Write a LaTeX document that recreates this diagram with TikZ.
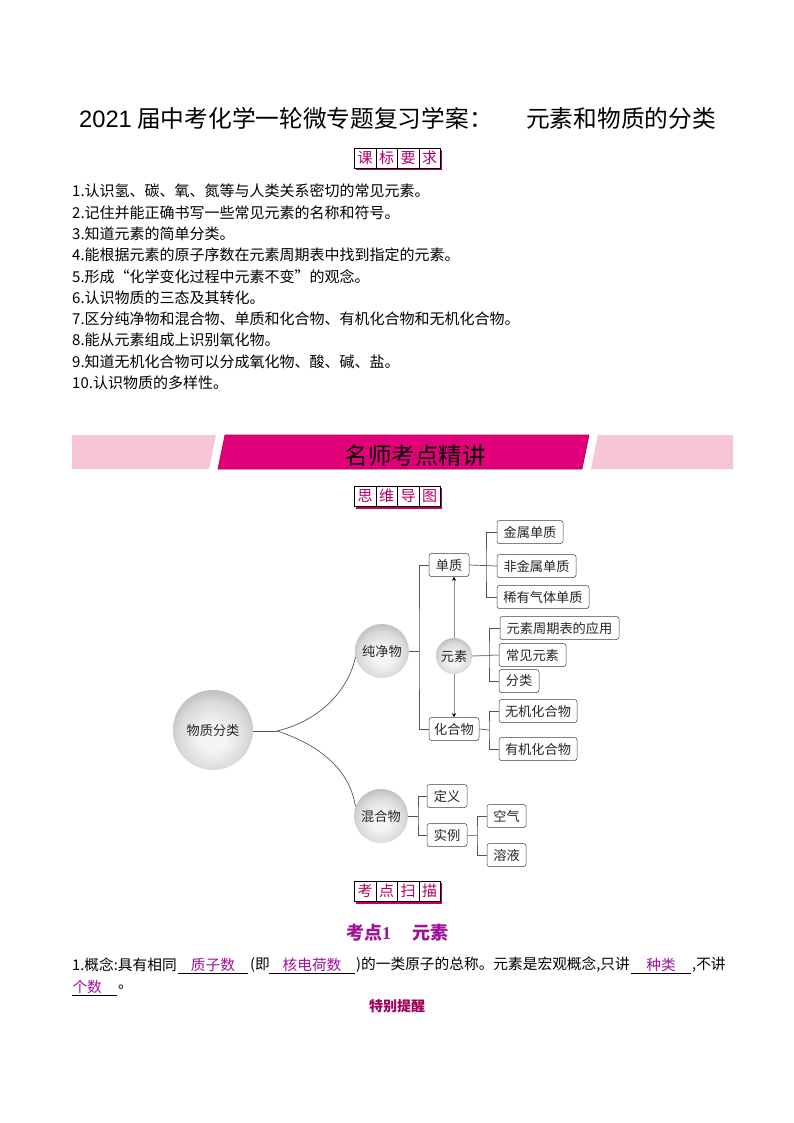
\documentclass[tikz,border=0pt]{standalone}
\usepackage{fontspec}
\setmainfont{Noto Sans CJK SC}
\newfontfamily\titlelatin{Liberation Sans}
\newfontfamily\numlatin{Liberation Serif}
\definecolor{rosered}{HTML}{E2007A}
\definecolor{palerose}{HTML}{F6C6D8}
\definecolor{answerpurple}{HTML}{A0109A}
\definecolor{linegray}{HTML}{555555}
\pgfdeclareradialshading{ballfill}{\pgfpoint{0bp}{-5bp}}{color(0bp)=(black!4); color(8bp)=(black!4); color(22bp)=(black!15); color(36bp)=(black!36); color(100bp)=(black!36)}
\tikzset{
        body/.style={anchor=west, inner sep=0pt, font=\fontsize{15}{15}\selectfont},
        cell/.style={draw=black, fill=white, line width=0.5pt, minimum width=21.5pt, minimum height=20pt, inner sep=0pt, text=rosered!80!black, font=\fontsize{15}{15}\selectfont},
        shadowbar/.style={fill=rosered!85!black, draw=none},
        leaf/.style={draw=black!75, rounded corners=2.5pt, fill=white, line width=0.5pt, inner sep=0pt, minimum height=23pt, font=\fontsize{13.2}{13.2}\selectfont, text=black!85},
        ball/.style={circle, inner sep=0pt, shade, shading=ballfill, font=\fontsize{13.2}{13.2}\selectfont, text=black!85},
        link/.style={draw=linegray, line width=0.7pt},
        softlink/.style={draw=black!45, line width=1pt},
        heavylink/.style={draw=black!45, line width=1pt, -{Stealth[black,length=4pt,width=4pt]}},
        answer/.style={inner sep=0pt, minimum height=16pt, text=answerpurple, font=\fontsize{14.7}{14.7}\selectfont},
        line14/.style={anchor=west, inner sep=0pt, font=\fontsize{14.7}{14.7}\selectfont}
}
\usetikzlibrary{arrows.meta}
\begin{document}
\begin{tikzpicture}[x=1pt,y=-1pt]
        \useasboundingbox (0,0) rectangle (794,1123);
        \fill[white] (0,0) rectangle (794,1123);

        \node[anchor=west, inner sep=0pt, font=\fontsize{23.7}{24}\selectfont] at (79,118) (title1) {{\titlelatin 2021} 届中考化学一轮微专题复习学案：};
        \node[anchor=west, inner sep=0pt, font=\fontsize{23.7}{24}\selectfont] at (526,118) (title2) {元素和物质的分类};

        \fill[shadowbar] (356,150) rectangle (442,170.5);
        \node[cell] at (365,158) (ka) {课};
        \node[cell] at (386.5,158) (kb) {标};
        \node[cell] at (408,158) (kc) {要};
        \node[cell] at (429.5,158) (kd) {求};

        \node[body] at (72,191) (r1) {1.认识氢、碳、氧、氮等与人类关系密切的常见元素。};
        \node[body] at (72,213) (r2) {2.记住并能正确书写一些常见元素的名称和符号。};
        \node[body] at (72,234) (r3) {3.知道元素的简单分类。};
        \node[body] at (72,255) (r4) {4.能根据元素的原子序数在元素周期表中找到指定的元素。};
        \node[body] at (72,277) (r5) {5.形成“化学变化过程中元素不变”的观念。};
        \node[body] at (72,298) (r6) {6.认识物质的三态及其转化。};
        \node[body] at (72,319) (r7) {7.区分纯净物和混合物、单质和化合物、有机化合物和无机化合物。};
        \node[body] at (72,340) (r8) {8.能从元素组成上识别氧化物。};
        \node[body] at (72,362) (r9) {9.知道无机化合物可以分成氧化物、酸、碱、盐。};
        \node[body] at (72,383) (r10) {10.认识物质的多样性。};

        \fill[palerose] (72,435) -- (216,435) -- (209,469) -- (72,469) -- cycle;
        \draw[fill=rosered, draw=rosered!70!black, line width=0.6pt] (225,435) -- (589,435) -- (582,469) -- (218,469) -- cycle;
        \fill[palerose] (598,435) -- (733,435) -- (733,469) -- (591,469) -- cycle;
        \node[inner sep=0pt, font=\fontsize{23.5}{24}\selectfont] at (415,456) (band) {名师考点精讲};

        \fill[shadowbar] (356,488) rectangle (442,508.5);
        \node[cell] at (365,496) (sa) {思};
        \node[cell] at (386.5,496) (sb) {维};
        \node[cell] at (408,496) (sc) {导};
        \node[cell] at (429.5,496) (sd) {图};

        \node[ball, minimum size=80pt] at (213,730) (wzfl) {物质分类};
        \node[ball, minimum size=54pt] at (382,651) (cjw) {纯净物};
        \node[ball, minimum size=54pt] at (381,816) (hhw) {混合物};
        \node[ball, minimum size=36pt] at (454,656) (ys) {元素};

        \node[leaf, minimum width=40pt] at (449,565) (dz) {单质};
        \node[leaf, minimum width=50pt] at (454,729) (hhe) {化合物};
        \node[leaf, minimum width=66pt] at (530,532) (js) {金属单质};
        \node[leaf, minimum width=79pt] at (536.5,566) (fjs) {非金属单质};
        \node[leaf, minimum width=92pt] at (543,597) (xy) {稀有气体单质};
        \node[leaf, minimum width=119pt] at (559.5,628) (zq) {元素周期表的应用};
        \node[leaf, minimum width=67pt] at (532.5,655) (cj) {常见元素};
        \node[leaf, minimum width=40pt] at (519,681) (fl) {分类};
        \node[leaf, minimum width=78pt] at (538,711) (wj) {无机化合物};
        \node[leaf, minimum width=78pt] at (538,749) (yj) {有机化合物};
        \node[leaf, minimum width=40pt] at (447,796) (dy) {定义};
        \node[leaf, minimum width=40pt] at (447,835) (sl) {实例};
        \node[leaf, minimum width=39pt] at (506.5,816) (kq) {空气};
        \node[leaf, minimum width=39pt] at (506.5,855) (ry) {溶液};

        \coordinate (fork) at (277,731);
        \coordinate (busa) at (419,651);
        \coordinate (busb) at (486,566);
        \coordinate (busc) at (489,655);
        \coordinate (busd) at (489,730);
        \coordinate (buse) at (418,816);
        \coordinate (busf) at (477,835);

        \draw[link] (wzfl.east |- fork) -- (fork);
        \draw[link] (fork) .. controls (315,722) and (347,695) .. (cjw.193);
        \draw[link] (fork) .. controls (320,745) and (350,770) .. (hhw.160);

        \draw[link] (cjw.east) -- (busa);
        \draw[link] (dz.west) -| (busa) |- (hhe.west);
        \draw[link] (dz.east) -- (fjs.west);
        \draw[link] (js.west) -| (busb) |- (xy.west);
        \draw[softlink] (ys.east) -- (cj.west);
        \draw[link] (zq.west) -| (busc) |- (fl.west);
        \draw[link] (hhe.east) -- (busd);
        \draw[link] (wj.west) -| (busd) |- (yj.west);
        \draw[link] (hhw.east) -- (buse);
        \draw[link] (dy.west) -| (buse) |- (sl.west);
        \draw[softlink] (sl.east) -- (busf);
        \draw[link] (kq.west) -| (busf) |- (ry.west);

        \draw[heavylink] (ys.north) -- (ys.north |- dz.south);
        \draw[heavylink] (ys.south) -- (ys.south |- hhe.north);

        \fill[shadowbar] (356,883) rectangle (442,903.5);
        \node[cell] at (365,891) (ta) {考};
        \node[cell] at (386.5,891) (tb) {点};
        \node[cell] at (408,891) (tc) {扫};
        \node[cell] at (429.5,891) (td) {描};

        \node[inner sep=0pt, text=answerpurple, font=\fontsize{18}{18}\bfseries\selectfont] at (397,933) (kd1) {考点{\numlatin 1}\hspace{21pt}元素};

        \node[line14] at (72,965) (p1) {1.概念:具有相同};
        \node[answer, minimum width=70pt] at (213,965) (an1) {质子数};
        \node[line14] at (250,965) (p2) {(即};
        \node[answer, minimum width=86pt] at (312,965) (an2) {核电荷数};
        \node[line14] at (356,965) (p3) {)的一类原子的总称。元素是宏观概念,只讲};
        \node[answer, minimum width=60pt] at (661,965) (an3) {种类};
        \node[line14] at (692,965) (p4) {,不讲};
        \node[answer, anchor=west, minimum width=45pt, align=left] at (72,987) (an4) {个数\hspace{15pt}};
        \node[line14] at (118,987) (p5) {。};

        \draw[line width=0.5pt] (an1.south west) -- (an1.south east);
        \draw[line width=0.5pt] (an2.south west) -- (an2.south east);
        \draw[line width=0.5pt] (an3.south west) -- (an3.south east);
        \draw[line width=0.5pt] (an4.south west) -- (an4.south east);

        \node[inner sep=0pt, text=rosered!70!black, font=\fontsize{14}{14}\bfseries\selectfont] at (397,1006) (tb1) {特别提醒};
\end{tikzpicture}
\end{document}
